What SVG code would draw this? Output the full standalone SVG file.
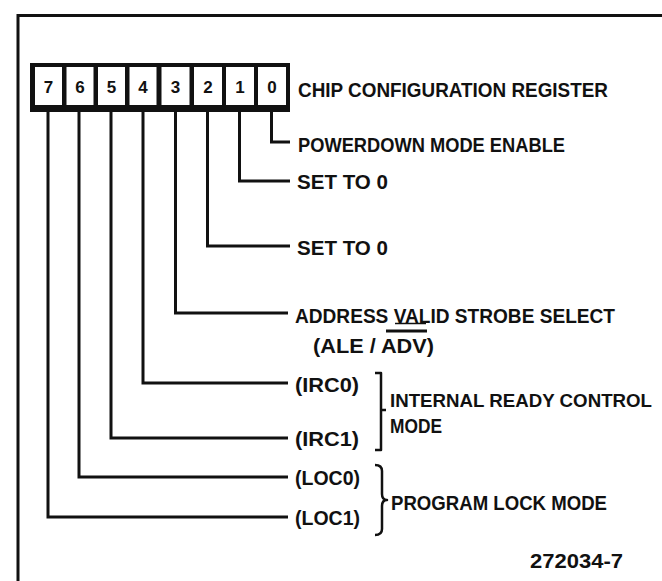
<svg xmlns="http://www.w3.org/2000/svg" width="662" height="581" viewBox="0 0 662 581">
<style>
.t{font-family:"Liberation Sans",Arial,sans-serif;font-weight:bold;font-size:21px;fill:#111}
.d{font-family:"Liberation Sans",Arial,sans-serif;font-weight:bold;font-size:17px;fill:#111;text-anchor:middle}
.w{fill:none;stroke:#111;stroke-width:3;stroke-linejoin:miter;stroke-linecap:butt}
.b{fill:none;stroke:#111;stroke-width:2.5;stroke-linejoin:round}
</style>
<rect width="662" height="581" fill="#fff"/>
<g id="frame" class="w">
<path d="M18,581 L18,15.5 L662,15.5"/>
</g>
<g id="register">
<rect x="30" y="63" width="260" height="49" fill="#111"/>
<rect x="35" y="67" width="27" height="38" fill="#fff"/>
<rect x="66.5" y="67" width="27" height="38" fill="#fff"/>
<rect x="98" y="67" width="27" height="38" fill="#fff"/>
<rect x="129.5" y="67" width="27" height="38" fill="#fff"/>
<rect x="161.5" y="67" width="28" height="38" fill="#fff"/>
<rect x="194" y="67" width="28" height="38" fill="#fff"/>
<rect x="226" y="67" width="28" height="38" fill="#fff"/>
<rect x="258" y="67" width="28" height="38" fill="#fff"/>
<text class="d" x="48.5" y="93">7</text>
<text class="d" x="80" y="93">6</text>
<text class="d" x="111.5" y="93">5</text>
<text class="d" x="143" y="93">4</text>
<text class="d" x="175.5" y="93">3</text>
<text class="d" x="208" y="93">2</text>
<text class="d" x="240" y="93">1</text>
<text class="d" x="272" y="93">0</text>
<text class="t" x="298" y="97" textLength="310" lengthAdjust="spacingAndGlyphs">CHIP CONFIGURATION REGISTER</text>
</g>
<g id="connectors" class="w">
<path d="M271.5,112 V142 H290"/>
<path d="M239.5,112 V181 H290"/>
<path d="M207.5,112 V246 H290"/>
<path d="M175.5,112 V313 H288"/>
<path d="M143,112 V383 H288"/>
<path d="M111,112 V438 H288"/>
<path d="M79,112 V477 H288"/>
<path d="M48,112 V517 H288"/>
</g>
<g id="bit0"><text class="t" x="298" y="152" textLength="267" lengthAdjust="spacingAndGlyphs">POWERDOWN MODE ENABLE</text></g>
<g id="bit1"><text class="t" x="297" y="189" textLength="91" lengthAdjust="spacingAndGlyphs">SET TO 0</text></g>
<g id="bit2"><text class="t" x="297" y="255" textLength="91" lengthAdjust="spacingAndGlyphs">SET TO 0</text></g>
<g id="bit3">
<text class="t" x="295" y="322.5" textLength="320" lengthAdjust="spacingAndGlyphs">ADDRESS VALID STROBE SELECT</text>
<line x1="395" y1="323.5" x2="426" y2="323.5" stroke="#111" stroke-width="1.5"/>
<text class="t" x="313" y="353" textLength="121" lengthAdjust="spacingAndGlyphs">(ALE / ADV)</text>
<line x1="386" y1="331" x2="427" y2="331" stroke="#111" stroke-width="3"/>
</g>
<g id="bit4"><text class="t" x="295" y="392" textLength="64" lengthAdjust="spacingAndGlyphs">(IRC0)</text></g>
<g id="bit5"><text class="t" x="295" y="446" textLength="64" lengthAdjust="spacingAndGlyphs">(IRC1)</text></g>
<g id="bit6"><text class="t" x="295" y="485" textLength="65" lengthAdjust="spacingAndGlyphs">(LOC0)</text></g>
<g id="bit7"><text class="t" x="295" y="525" textLength="65" lengthAdjust="spacingAndGlyphs">(LOC1)</text></g>
<g id="irc-group">
<path class="b" d="M375,373 L381,373 L381,450 L375,450 M381,410 L386,410"/>
<text class="t" x="390" y="406.5" style="font-size:18.5px" textLength="262" lengthAdjust="spacingAndGlyphs">INTERNAL READY CONTROL</text>
<text class="t" x="390" y="432.5" textLength="52" lengthAdjust="spacingAndGlyphs">MODE</text>
</g>
<g id="loc-group">
<path class="b" d="M375,465 Q382,465 382,471 L382,494 Q382,500 387,500 Q382,500 382,506 L382,529 Q382,535 375,535"/>
<text class="t" x="391" y="510" textLength="216" lengthAdjust="spacingAndGlyphs">PROGRAM LOCK MODE</text>
</g>
<g id="figure-number"><text class="t" x="530" y="568" textLength="93" lengthAdjust="spacingAndGlyphs">272034-7</text></g>
</svg>
